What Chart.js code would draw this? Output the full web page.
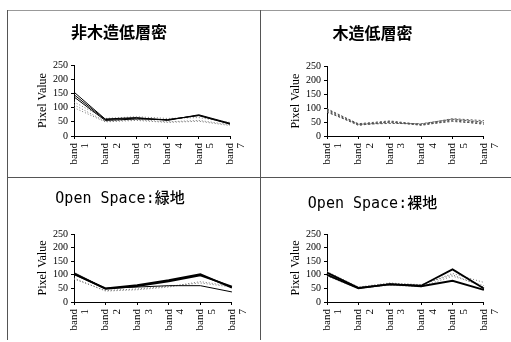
<!DOCTYPE html>
<html>
<head>
<meta charset="utf-8">
<script src="https://cdn.jsdelivr.net/npm/chart.js@4.4.0/dist/chart.umd.min.js"></script>
<style>
  body { margin: 0; background: #fff; }
  #page { position: relative; width: 511px; height: 342px; overflow: hidden; background: #fff; }
  canvas { position: absolute; }
  .line { position: absolute; background: #555; }
</style>
</head>
<body>
<div id="page">
  <div class="line" style="left:7px; top:10px; width:504px; height:1px; background:#999;"></div>
  <div class="line" style="left:7px; top:10px; width:1px; height:330px;"></div>
  <div class="line" style="left:260px; top:10px; width:1px; height:330px;"></div>
  <div class="line" style="left:7px; top:177px; width:504px; height:1px;"></div>
  <canvas id="c1" width="251" height="165" style="left:8px; top:11px;"></canvas>
  <canvas id="c2" width="250" height="165" style="left:261px; top:11px;"></canvas>
  <canvas id="c3" width="251" height="162" style="left:8px; top:178px;"></canvas>
  <canvas id="c4" width="250" height="162" style="left:261px; top:178px;"></canvas>
</div>
<script>
// x categories (Landsat TM bands, band 6 not used)
const bands = [['band', '1'], ['band', '2'], ['band', '3'], ['band', '4'], ['band', '5'], ['band', '7']];
const yTicks = [0, 50, 100, 150, 200, 250];

// 非木造低層密
const nonWood = [
    [155, 60, 65, 55, 75, 45],
    [146, 58, 63, 57, 73, 43],
    [138, 55, 60, 58, 72, 42],
    [110, 52, 58, 50, 55, 40],
    [100, 50, 55, 48, 52, 37],
    [120, 62, 68, 62, 65, 48]
];
// 木造低層密
const wood = [
    [98, 42, 50, 42, 62, 55],
    [92, 40, 48, 40, 58, 48],
    [88, 38, 52, 38, 55, 42],
    [85, 42, 45, 44, 60, 50],
    [95, 44, 54, 41, 52, 45]
];
// Open Space:緑地
const green = [
    [108, 50, 55, 60, 60, 37],
    [104, 48, 58, 76, 98, 57],
    [102, 50, 62, 80, 102, 53],
    [88, 40, 45, 55, 75, 58],
    [84, 42, 48, 58, 70, 55]
];
// Open Space:裸地
const bare = [
    [108, 52, 65, 60, 120, 50],
    [100, 50, 66, 58, 78, 45],
    [112, 55, 70, 62, 105, 72],
    [95, 50, 62, 56, 95, 60],
    [105, 53, 68, 64, 100, 55]
];

const lineStyles = {
    solid: { borderColor: '#000', borderWidth: 1, borderDash: [] },
    thick: { borderColor: '#000', borderWidth: 1.8, borderDash: [] },
    dot: { borderColor: '#777', borderWidth: 1, borderDash: [1, 2] },
    dash: { borderColor: '#555', borderWidth: 1, borderDash: [2, 2] }
};

function makeChart(id, title, titleFont, series, styles, opts) {
    const ctx = document.getElementById(id).getContext('2d');
    const datasets = series.map((values, i) => {
        const s = lineStyles[styles[i]];
        return {
            data: values,
            borderColor: s.borderColor,
            borderWidth: s.borderWidth,
            borderDash: s.borderDash,
            pointRadius: 0,
            tension: 0,
            fill: false
        };
    });

    return new Chart(ctx, {
        type: 'line',
        data: { labels: bands, datasets: datasets },
        options: {
            responsive: false,
            animation: false,
            layout: { padding: { left: 0, right: opts.right, top: 0, bottom: 0 } },
            scales: {
                x: {
                    offset: false,
                    grid: { drawOnChartArea: false, tickLength: 3, color: '#000' },
                    border: { color: '#000', width: 1 },
                    ticks: {
                        autoSkip: false,
                        maxRotation: 90,
                        minRotation: 90,
                        padding: 4,
                        color: '#000',
                        font: { family: 'Liberation Serif', size: 11, lineHeight: 1.05 }
                    },
                    afterFit: scale => { scale.height = opts.xHeight; }
                },
                y: {
                    min: 0,
                    max: 250,
                    afterBuildTicks: scale => { scale.ticks = yTicks.map(v => ({ value: v })); },
                    grid: { drawOnChartArea: false, tickLength: 3, color: '#000' },
                    border: { color: '#000', width: 1 },
                    ticks: {
                        autoSkip: false,
                        padding: 3,
                        color: '#000',
                        font: { family: 'Liberation Serif', size: 10 }
                    },
                    title: {
                        display: true,
                        text: 'Pixel Value',
                        color: '#000',
                        padding: { top: 28, bottom: 0 },
                        font: { family: 'Liberation Serif', size: 12 }
                    },
                    afterFit: scale => { scale.width = 66; }
                }
            },
            plugins: {
                legend: { display: false },
                tooltip: { enabled: false },
                title: {
                    display: true,
                    text: title,
                    color: '#000',
                    padding: { top: opts.titleTop, bottom: opts.titleBottom },
                    font: titleFont
                }
            }
        }
    });
}

const cjkFont = { family: "'Noto Sans CJK JP', sans-serif", size: 16, weight: 'bold', lineHeight: 1.2 };
const monoFont = { family: "'DejaVu Sans Mono', 'Noto Sans CJK JP', monospace", size: 15, weight: '500', lineHeight: 1.2 };

makeChart('c1', '非木造低層密', cjkFont, nonWood,
    ['solid', 'solid', 'solid', 'dot', 'dot', 'dot'],
    { right: 29, xHeight: 40, titleTop: 11, titleBottom: 24 });
makeChart('c2', '木造低層密', cjkFont, wood,
    ['dash', 'dash', 'dash', 'dash', 'dash'],
    { right: 27, xHeight: 40, titleTop: 12, titleBottom: 24 });
makeChart('c3', 'Open Space:緑地', monoFont, green,
    ['solid', 'thick', 'thick', 'dot', 'dot'],
    { right: 27, xHeight: 38, titleTop: 12, titleBottom: 26 });
makeChart('c4', 'Open Space:裸地', monoFont, bare,
    ['thick', 'thick', 'dot', 'dot', 'dot'],
    { right: 27, xHeight: 38, titleTop: 17, titleBottom: 21 });
</script>
</body>
</html>
